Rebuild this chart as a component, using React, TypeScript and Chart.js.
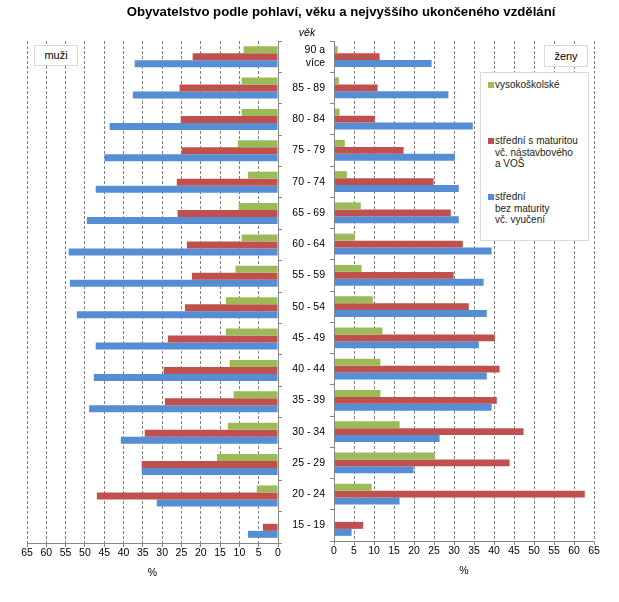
import React, { useEffect, useRef } from "react";
import { Chart, registerables } from "chart.js";

Chart.register(...registerables);

const FONT = "'Liberation Sans', Arial, sans-serif";

// Age groups, top to bottom
const ageGroups: (string | string[])[] = [
  ["90 a", "více"],
  "85 - 89",
  "80 - 84",
  "75 - 79",
  "70 - 74",
  "65 - 69",
  "60 - 64",
  "55 - 59",
  "50 - 54",
  "45 - 49",
  "40 - 44",
  "35 - 39",
  "30 - 34",
  "25 - 29",
  "20 - 24",
  "15 - 19",
];

const seriesNames = [
  "vysokoškolské",
  "střední s maturitou vč. nástavbového a VOŠ",
  "střední bez maturity vč. vyučení",
];
const legendLines = [
  ["vysokoškolské"],
  ["střední s maturitou", "vč. nástavbového", "a VOŠ"],
  ["střední", "bez maturity", "vč. vyučení"],
];
const seriesColors = ["#9BBB59", "#C0504D", "#558ED5"];

// Men (%)
const menUniversity = [8.9, 9.4, 9.4, 10.4, 7.8, 10.2, 9.4, 11.0, 13.5, 13.5, 12.5, 11.5, 13.0, 15.8, 5.5, 0];
const menSecondaryMatura = [22.1, 25.5, 25.2, 24.9, 26.2, 26.0, 23.6, 22.3, 24.1, 28.5, 29.6, 29.3, 34.5, 35.3, 46.9, 3.9];
const menSecondaryNoMatura = [37.1, 37.6, 43.6, 44.9, 47.2, 49.5, 54.2, 53.9, 52.1, 47.2, 47.7, 48.9, 40.7, 35.3, 31.4, 7.8];

// Women (%)
const womenUniversity = [0.9, 1.2, 1.4, 2.7, 3.2, 6.7, 5.2, 6.9, 9.7, 12.1, 11.6, 11.6, 16.4, 25.2, 9.4, 0];
const womenSecondaryMatura = [11.4, 10.9, 10.2, 17.4, 24.9, 29.2, 32.2, 29.9, 33.7, 40.2, 41.4, 40.7, 47.4, 43.9, 62.7, 7.3];
const womenSecondaryNoMatura = [24.4, 28.6, 34.7, 30.2, 31.2, 31.2, 39.4, 37.4, 38.2, 36.2, 38.2, 39.4, 26.4, 19.9, 16.4, 4.4];

const axisMin = 0;
const axisMax = 65;
const axisStep = 5;

const title = "Obyvatelstvo podle pohlaví, věku a nejvyššího ukončeného vzdělání";
const axisTitle = "%";
const menLabel = "muži";
const womenLabel = "ženy";
const ageTitle = "věk";

const GRID = "#808080";
const AXIS = "#868686";

function makeConfig(side: "men" | "women"): any {
  const men = side === "men";
  const values = men
    ? [menUniversity, menSecondaryMatura, menSecondaryNoMatura]
    : [womenUniversity, womenSecondaryMatura, womenSecondaryNoMatura];
  return {
    type: "bar",
    data: {
      labels: ageGroups,
      datasets: values.map((d, i) => ({
        label: seriesNames[i],
        data: d,
        backgroundColor: seriesColors[i],
        borderWidth: 0,
        categoryPercentage: 0.67,
        barPercentage: 1.0,
      })),
    },
    options: {
      indexAxis: "y",
      responsive: false,
      animation: false,
      layout: {
        padding: men
          ? { left: 27, right: 0, top: 41, bottom: 22.8 }
          : { left: 0, right: 25, top: 41, bottom: 24.8 },
      },
      plugins: {
        legend: { display: false },
        tooltip: { enabled: false },
        title: { display: false },
      },
      scales: {
        x: {
          type: "linear",
          min: axisMin,
          max: axisMax,
          reverse: men,
          position: "bottom",
          ticks: {
            stepSize: axisStep,
            padding: 0,
            color: "#000",
            font: { size: 10.5, family: FONT },
            maxRotation: 0,
            autoSkip: false,
          },
          grid: {
            color: GRID,
            lineWidth: 1,
            drawTicks: true,
            tickLength: 4,
            tickColor: AXIS,
            tickBorderDash: [],
          },
          border: { display: true, color: AXIS, width: 1, dash: [3, 2] },
          title: {
            display: true,
            text: axisTitle,
            color: "#000",
            font: { size: 10.5, family: FONT },
            padding: { top: 7, bottom: 0 },
          },
        },
        y: {
          type: "category",
          position: men ? "right" : "left",
          ticks: {
            display: !men,
            color: "#000",
            font: { size: 10.5, family: FONT },
            padding: 5,
          },
          grid: {
            drawOnChartArea: false,
            drawTicks: true,
            tickLength: 4,
            color: AXIS,
          },
          border: { display: true, color: AXIS, width: 1, z: 1 },
          afterFit: (s: any) => {
            s.width = men ? 12 : 54;
          },
        },
      },
    },
  };
}

function ChartCanvas({ side, left, width }: { side: "men" | "women"; left: number; width: number }) {
  const ref = useRef<HTMLCanvasElement | null>(null);
  useEffect(() => {
    if (!ref.current) return;
    const chart = new Chart(ref.current, makeConfig(side));
    return () => chart.destroy();
  }, [side]);
  return (
    <canvas
      ref={ref}
      width={width}
      height={602}
      style={{ position: "absolute", left, top: 0, width, height: 602 }}
    />
  );
}

export default function App() {
  Chart.defaults.font.family = FONT;
  const boxStyle: React.CSSProperties = {
    position: "absolute",
    boxSizing: "border-box",
    border: "1px solid #d9d9d9",
    background: "#fff",
    fontSize: 11,
    textAlign: "center",
    color: "#000",
  };
  return (
    <div
      style={{
        position: "absolute",
        left: 0,
        top: 0,
        width: 619,
        height: 602,
        background: "#fff",
        fontFamily: FONT,
        overflow: "hidden",
      }}
    >
      <ChartCanvas side="men" left={0} width={290} />
      <ChartCanvas side="women" left={280} width={339} />
      <div
        style={{
          position: "absolute",
          left: 0,
          top: 4,
          width: 682,
          textAlign: "center",
          fontWeight: "bold",
          fontSize: 13.2,
          lineHeight: "16px",
          whiteSpace: "nowrap",
          color: "#000",
        }}
      >
        {title}
      </div>
      <div
        style={{
          position: "absolute",
          left: 0,
          top: 25,
          width: 614,
          textAlign: "center",
          fontStyle: "italic",
          fontSize: 10.5,
          lineHeight: "14px",
          color: "#000",
        }}
      >
        {ageTitle}
      </div>
      <div style={{ ...boxStyle, left: 34, top: 45, width: 44, height: 21, lineHeight: "19px" }}>{menLabel}</div>
      <div style={{ ...boxStyle, left: 544, top: 45, width: 44, height: 22, lineHeight: "20px" }}>{womenLabel}</div>
      <div style={{ ...boxStyle, left: 480, top: 72, width: 109, height: 169, textAlign: "left" }}>
        {legendLines.map((lines, i) => {
          const top = [12, 68, 124][i];
          return (
            <React.Fragment key={i}>
              <div
                style={{
                  position: "absolute",
                  left: 7,
                  top: top - 3,
                  width: 6,
                  height: 6,
                  background: seriesColors[i],
                }}
              />
              <div
                style={{
                  position: "absolute",
                  left: 14,
                  top: top - 6,
                  fontSize: 10,
                  lineHeight: "11.5px",
                  whiteSpace: "nowrap",
                  color: "#222",
                }}
              >
                {lines.map((l, j) => (
                  <div key={j}>{l}</div>
                ))}
              </div>
            </React.Fragment>
          );
        })}
      </div>
    </div>
  );
}
